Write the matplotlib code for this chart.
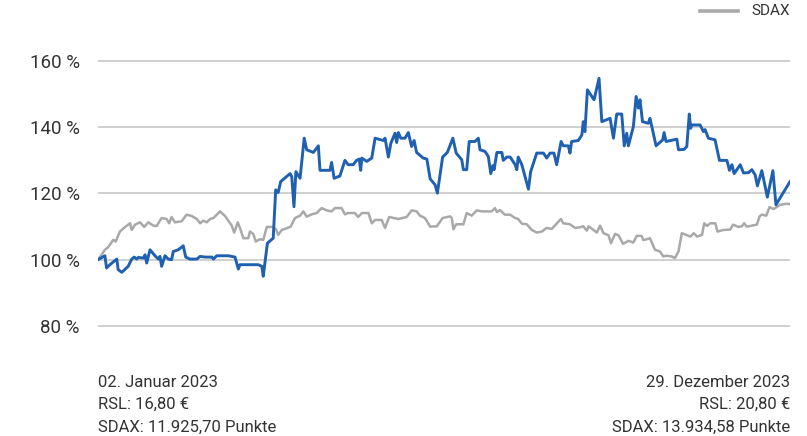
import matplotlib
matplotlib.use("Agg")
import matplotlib.pyplot as plt

# --- Data (trading day index, value in % of start) ---
rsl_days = [0, 2.5, 3.1, 4.3, 6.8, 7.3, 8.6, 10.9, 12.2, 13.1, 14.0, 14.6, 16.4, 17.0,
            17.6, 18.8, 20.6, 21.8, 22.4, 23.0, 24.2, 25.4, 26.6, 27.2, 29.0, 30.8,
            31.7, 33.2, 35.7, 36.9, 38.7, 41.1, 41.7, 42.9, 47.1, 49.5, 50.7, 51.3,
            57.9, 59.2, 59.7, 61.2, 63.3, 64.2, 65.1, 66.0, 69.4, 70.0, 70.8, 71.5,
            73.0, 74.5, 75.4, 77.8, 79.6, 80.2, 83.8, 84.4, 85.3, 87.4, 89.2, 90.4,
            92.2, 93.4, 94.4, 94.9, 95.3, 97.1, 98.9, 100.1, 103.1, 103.7, 104.9,
            105.8, 107.3, 107.9, 108.5, 109.4, 110.9, 112.1, 113.3, 114.2, 115.1,
            117.5, 118.8, 120.0, 121.8, 122.6, 124.5, 126.2, 128.2, 129.4, 131.4,
            132.0, 133.2, 134.1, 136.2, 137.4, 138.0, 139.8, 141.0, 141.9, 142.6,
            143.1, 144.1, 145.9, 146.4, 147.7, 148.9, 150.7, 151.3, 151.8, 153.1,
            155.5, 156.3, 158.5, 160.9, 162.1, 163.3, 164.7, 165.7, 167.3, 168.1,
            169.9, 170.5, 171.1, 173.5, 174.8, 175.3, 175.9, 176.8, 179.2, 181.0,
            182.0, 185.0, 186.2, 187.4, 189.2, 190.1, 191.0, 191.6, 193.4, 194.4,
            195.2, 195.8, 196.7, 198.8, 199.4, 201.6, 204.0, 204.5, 205.2, 209.1,
            209.7, 211.7, 212.7, 213.6, 214.1, 214.5, 217.5, 218.7, 219.3, 220.5,
            222.9, 224.5, 227.2, 228.1, 229.0, 229.8, 232.0, 233.2, 235.0, 236.2,
            237.4, 238.2, 239.8, 241.8, 243.8, 244.9, 250.0]
rsl_values = [100, 101.2, 97.5, 98.5, 100.2, 97, 96.2, 98, 100.2, 100.8, 100.2, 100.7,
              100.5, 101.5, 99, 103, 101.2, 100.2, 101, 98, 101.2, 100.2, 100, 102.5,
              103, 104.2, 100.8, 100.2, 100.2, 101, 100.8, 100.8, 100.2, 101.2, 101.2,
              100.8, 97.2, 98.5, 98.5, 98, 95, 105, 106.5, 121.1, 120.3, 123.6, 126,
              125.1, 116, 126.6, 124.6, 136.7, 133.2, 132.4, 134.4, 127, 127, 129.4,
              124.6, 125.3, 130, 128.7, 128.7, 130, 130.4, 127, 130.7, 129.7, 130.7,
              136.7, 136, 136.7, 131, 135.2, 138.2, 135.4, 138.4, 136.7, 136.7, 138.4,
              134.2, 136, 132.4, 130.7, 130.4, 124.4, 122.6, 120.1, 131, 132.4, 136.7,
              132.2, 130.2, 127.2, 127.2, 135.7, 135.7, 136.7, 133.2, 132.7, 131.2,
              126, 128.4, 127.2, 132.4, 132.4, 130, 131, 131, 128.7, 127.2, 131, 128.7,
              121.3, 126.6, 132.2, 132.2, 130.7, 132.2, 132.2, 128.7, 135.7, 134.4,
              134.4, 132.2, 135.7, 136, 137.7, 141.7, 138.7, 151.3, 148.3, 154.8,
              141.7, 142.7, 136.7, 144, 144, 134.4, 138.2, 134.4, 140.2, 149.3, 145.8,
              148.3, 141.7, 141.2, 142.7, 134.4, 136.2, 138.4, 135.7, 136.4, 133.2,
              133.3, 134.2, 144, 139.7, 140.7, 140.7, 138.7, 139.3, 136.7, 136.2, 130,
              130, 127, 128.7, 126, 128.7, 126.2, 126.3, 127.2, 125.6, 122.3, 126.9,
              118.9, 126.9, 116.6, 123.6]

sdax_days = [0, 1.3, 2.5, 3.7, 5.5, 6.4, 7.9, 9.8, 11.6, 12.2, 13.4, 15.2, 16.7, 18.2,
             20.0, 21.2, 23.0, 24.8, 25.7, 26.6, 27.8, 30.2, 32.0, 33.9, 35.7, 36.9,
             38.0, 39.3, 40.5, 41.7, 44.1, 45.9, 48.3, 49.2, 50.5, 51.3, 52.5, 54.3,
             54.9, 56.1, 57.0, 58.5, 59.7, 61.0, 63.3, 64.3, 65.1, 66.4, 68.2, 69.6,
             71.2, 73.0, 74.2, 75.4, 77.2, 79.0, 80.8, 82.6, 84.4, 85.6, 88.0, 89.2,
             90.4, 92.8, 94.0, 95.3, 97.7, 98.9, 100.1, 102.5, 103.7, 105.2, 108.5,
             111.5, 113.3, 115.1, 116.3, 118.1, 120.0, 122.4, 124.5, 127.2, 127.8,
             128.4, 129.4, 132.0, 133.2, 135.0, 136.8, 138.6, 142.2, 143.4, 144.1,
             145.2, 147.0, 148.9, 150.7, 151.8, 153.1, 154.9, 156.7, 158.5, 160.3,
             162.1, 163.9, 165.7, 167.2, 168.1, 170.5, 172.4, 174.2, 175.3, 176.6,
             177.2, 179.0, 180.2, 181.4, 182.6, 184.4, 185.3, 186.8, 188.0, 189.7,
             191.6, 193.4, 194.6, 196.4, 197.0, 199.4, 201.2, 203.0, 204.2, 205.4,
             207.2, 208.4, 209.7, 210.9, 212.7, 214.0, 215.2, 216.4, 218.2, 219.0,
             220.0, 221.2, 223.0, 223.8, 226.0, 228.4, 229.4, 231.4, 232.6, 233.4,
             234.4, 236.2, 238.0, 239.0, 239.8, 241.4, 242.6, 244.0, 245.2, 246.4,
             248.8, 250.0]
sdax_values = [100, 101.5, 103, 103.8, 106, 105.5, 108.5, 109.9, 111, 109, 110.6, 111.3,
               109.9, 111.3, 110.3, 110.2, 112.6, 112.3, 111, 112.9, 111.3, 111.6,
               113.6, 113.2, 112.3, 111, 111.8, 111.3, 112.3, 112.6, 114.6, 113.2,
               110.3, 108.2, 111.3, 109.6, 106.5, 106.5, 108.5, 107.8, 105.5, 106.2,
               106, 109.9, 109.9, 109.2, 107.5, 109, 109.5, 110, 112.6, 113.3, 114.6,
               113, 113.7, 114.1, 115.6, 114.9, 114.6, 115.6, 115.6, 113.7, 114.1,
               114.1, 112.9, 114.1, 114.1, 111, 112, 112, 109.6, 112.9, 112.3, 112.9,
               114.9, 114.6, 113.3, 112.6, 110, 110.1, 112.6, 113.1, 112.6, 109.2,
               110.7, 110.7, 114.1, 113.3, 114.9, 114.6, 114.6, 115.6, 114.4, 115,
               113.6, 113.6, 112.6, 112.3, 110.9, 110.7, 109, 108.2, 108.5, 109.6,
               109.3, 110.9, 112.3, 111, 110.7, 109.6, 109.8, 110.1, 108.8, 110.1, 109,
               108.2, 110.3, 108, 107.4, 105, 107.8, 107.4, 104.8, 105.7, 105.2, 107.2,
               107.2, 105.9, 106.5, 103, 102.5, 101, 101.2, 101, 100.5, 102.5, 108,
               107.4, 107, 108, 107, 107.5, 111, 110.2, 111, 111, 108.5, 109, 109.1,
               110.6, 109.9, 110.1, 111, 110, 110.3, 110.6, 113.1, 113.6, 113.3, 115.9,
               115.3, 115.9, 116.6, 116.9, 116.8]

y_ticks = [80, 100, 120, 140, 160]
y_labels = ["80 %", "100 %", "120 %", "140 %", "160 %"]

left_info = ["02. Januar 2023", "RSL: 16,80 €", "SDAX: 11.925,70 Punkte"]
right_info = ["29. Dezember 2023", "RSL: 20,80 €", "SDAX: 13.934,58 Punkte"]

BLUE = "#1f60b0"
GREY = "#a9a9a9"
TEXT = "#333333"

plt.rcParams['font.family'] = ['Roboto', 'DejaVu Sans']

fig = plt.figure(figsize=(8.07, 4.36), dpi=100)
ax = fig.add_axes([0.1214, 0.2372, 0.8576, 0.638])

ax.plot(sdax_days, sdax_values, color=GREY, lw=1.8, solid_joinstyle='round', zorder=3)
ax.plot(rsl_days, rsl_values, color=BLUE, lw=2.1, solid_joinstyle='round', zorder=4)

ax.set_xlim(0, 250)
ax.set_ylim(78, 162)
ax.set_yticks(y_ticks)
ax.set_yticklabels(y_labels)
ax.set_xticks([])
ax.tick_params(axis='y', length=0, pad=13, labelsize=13.5, labelcolor=TEXT)
ax.grid(axis='y', color='#c8c8c8', lw=1.2, zorder=1)
for s in ax.spines.values():
    s.set_visible(False)

# legend (top right)
fig.add_artist(plt.Line2D([700 / 807, 738 / 807], [1 - 11 / 436, 1 - 11 / 436],
                          color=GREY, lw=2.6))
fig.text(790 / 807, 1 - 11 / 436, "SDAX", ha='right', va='center',
         fontsize=11, color=TEXT)

# start / end info
for i, (l, r) in enumerate(zip(left_info, right_info)):
    y = 1 - (382 + i * 22.5) / 436
    fig.text(98 / 807, y, l, ha='left', va='center', fontsize=12, color=TEXT)
    fig.text(790 / 807, y, r, ha='right', va='center', fontsize=12, color=TEXT)

fig.savefig("out.png", dpi=100)
